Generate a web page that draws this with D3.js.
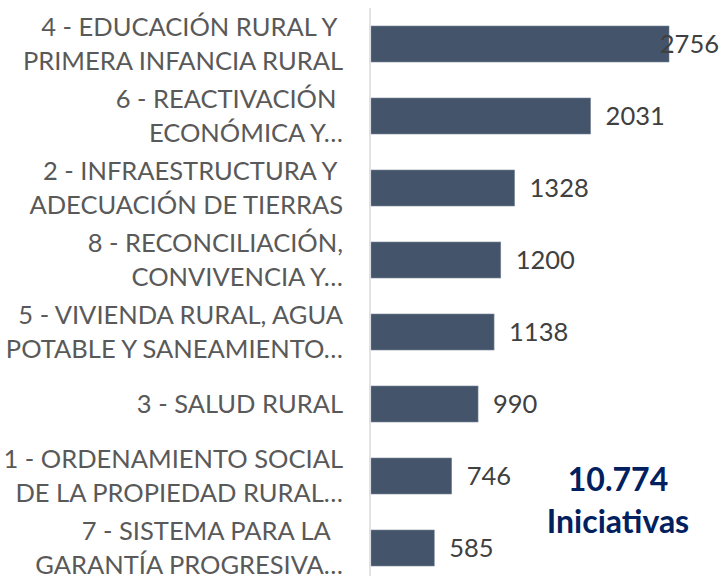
<!DOCTYPE html>
<html>
<head>
<meta charset="utf-8">
<script src="https://cdn.jsdelivr.net/npm/d3@7"></script>
<style>
  body { margin: 0; background: #fff; }
  svg { display: block; }
  text { white-space: pre; }
</style>
</head>
<body>
<div id="chart"></div>
<script>
const categories = [
  ["4 - EDUCACIÓN RURAL Y ", "PRIMERA INFANCIA RURAL"],
  ["6 - REACTIVACIÓN ", "ECONÓMICA Y…"],
  ["2 - INFRAESTRUCTURA Y ", "ADECUACIÓN DE TIERRAS"],
  ["8 - RECONCILIACIÓN,", "CONVIVENCIA Y…"],
  ["5 - VIVIENDA RURAL, AGUA", "POTABLE Y SANEAMIENTO…"],
  ["3 - SALUD RURAL"],
  ["1 - ORDENAMIENTO SOCIAL", "DE LA PROPIEDAD RURAL…"],
  ["7 - SISTEMA PARA LA  ", "GARANTÍA PROGRESIVA…"]
];
const values = [2756, 2031, 1328, 1200, 1138, 990, 746, 585];
const totalLines = ["10.774", "Iniciativas"];

const width = 721, height = 576;
const margin = { top: 8, left: 371, right: 52 };
const font = "Lato, 'Open Sans', sans-serif";
const fontSize = 25.5;

const svg = d3.select("#chart").append("svg")
  .attr("width", width)
  .attr("height", height);

const x = d3.scaleLinear()
  .domain([0, d3.max(values)])
  .range([margin.left, width - margin.right]);

const y = d3.scaleBand()
  .domain(d3.range(values.length))
  .range([margin.top, margin.top + 576])
  .paddingInner(0.5)
  .paddingOuter(0.25);

// bars
svg.selectAll(".bar")
  .data(values)
  .enter()
  .append("rect")
  .attr("class", "bar")
  .attr("x", x(0))
  .attr("y", (_, i) => y(i))
  .attr("width", d => x(d) - x(0))
  .attr("height", y.bandwidth())
  .attr("fill", "#44546a")
  .attr("stroke", "#7b8798")
  .attr("stroke-width", 0.6);

// axis line
svg.append("line")
  .attr("x1", x(0) - 1).attr("x2", x(0) - 1)
  .attr("y1", margin.top).attr("y2", height)
  .attr("stroke", "#d9d9d9")
  .attr("stroke-width", 1.5);

// category labels
const lineH = 34;
svg.selectAll(".cat")
  .data(categories)
  .enter()
  .append("text")
  .attr("class", "cat")
  .attr("text-anchor", "end")
  .attr("font-family", font)
  .attr("font-size", fontSize)
  .attr("fill", "#595959")
  .each(function (lines, i) {
    const cy = y(i) + y.bandwidth() / 2;
    const y0 = cy - (lines.length - 1) * lineH / 2;
    d3.select(this).selectAll("tspan")
      .data(lines)
      .enter()
      .append("tspan")
      .attr("x", 343)
      .attr("y", (_, j) => y0 + j * lineH)
      .attr("dy", "0.35em")
      .text(d => d);
  });

// value labels
svg.selectAll(".val")
  .data(values)
  .enter()
  .append("text")
  .attr("class", "val")
  .attr("font-family", font)
  .attr("font-size", fontSize)
  .attr("fill", "#404040")
  .attr("y", (_, i) => y(i) + y.bandwidth() / 2)
  .attr("dy", "0.35em")
  .text(d => d)
  .attr("x", function (d) {
    const w = this.getComputedTextLength();
    return Math.min(x(d) + 15, width - w - 2);
  });

// total annotation
svg.append("text")
  .attr("text-anchor", "middle")
  .attr("font-family", font)
  .attr("font-weight", "bold")
  .attr("font-size", 32)
  .attr("fill", "#002060")
  .selectAll("tspan")
  .data(totalLines)
  .enter()
  .append("tspan")
  .attr("x", 618)
  .attr("y", (_, j) => 480 + j * 42)
  .attr("dy", "0.35em")
  .text(d => d);
</script>
</body>
</html>
